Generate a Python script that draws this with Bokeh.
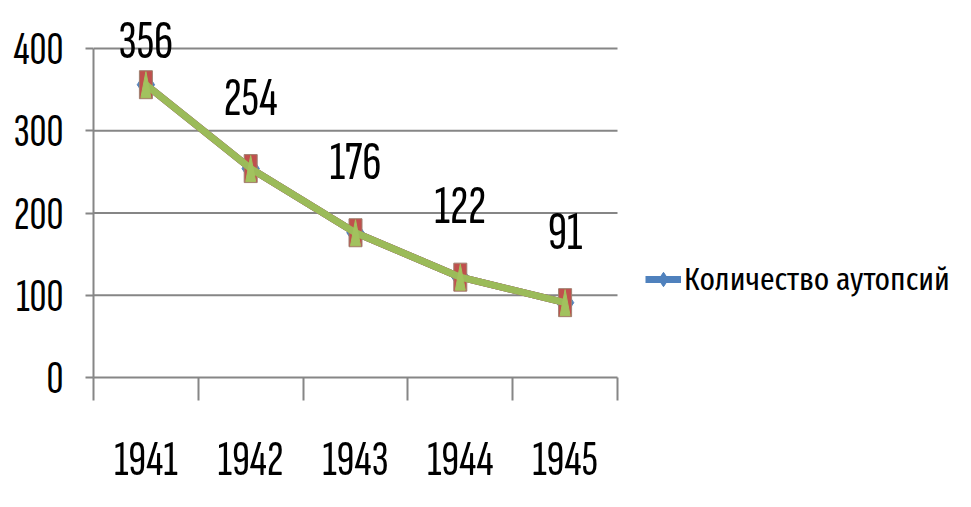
from bokeh.plotting import figure
from bokeh.models import Range1d, FixedTicker, ColumnDataSource, LabelSet, Legend, LegendItem
from bokeh.core.properties import value
from bokeh.embed import file_html
from bokeh.resources import INLINE

# ---- data ----
years = ["1941", "1942", "1943", "1944", "1945"]
autopsies = [356, 254, 176, 122, 91]
y_ticks = [0, 100, 200, 300, 400]
series_name = "Количество аутопсий"

# ---- style ----
NUM_FONT = "Sofia Sans Extra Condensed"
LEG_FONT = "Fira Sans Extra Condensed"
GRID = "#868686"
BLUE = "#4F81BD"
RED = "#C0504D"
GREEN = "#9BBB59"

W, H = 955, 491
BL, BB = 93, 114
Y_MAX = 400
CAT_PX = 104.8
Y_PX = 0.8225

x = [i + 0.5 for i in range(len(years))]
frame_w = W - BL
frame_h = H - BB

p = figure(width=W, height=H, output_backend="svg", toolbar_location=None,
           x_range=Range1d(0, frame_w / CAT_PX), y_range=Range1d(0, frame_h / Y_PX),
           min_border_left=BL, min_border_right=0, min_border_top=0, min_border_bottom=BB)
p.outline_line_color = None
p.background_fill_color = "white"
p.xgrid.visible = False
p.ygrid.visible = False

# horizontal gridlines across the plot area only
gl = y_ticks[1:]
p.segment(x0=[0] * len(gl), y0=gl, x1=[len(years)] * len(gl), y1=gl,
          line_color=GRID, line_width=2)

yax = p.yaxis[0]
yax.ticker = FixedTicker(ticks=y_ticks)
yax.bounds = (0, Y_MAX)
yax.axis_line_color = GRID
yax.axis_line_width = 2
yax.major_tick_line_color = GRID
yax.major_tick_line_width = 2
yax.major_tick_out = 8
yax.major_tick_in = 0
yax.minor_tick_line_color = None
yax.major_label_text_font = NUM_FONT
yax.major_label_text_font_size = "47px"
yax.major_label_text_color = "black"
yax.major_label_standoff = 22

xax = p.xaxis[0]
xax.ticker = FixedTicker(ticks=x, minor_ticks=list(range(len(years) + 1)))
xax.bounds = (0, len(years))
xax.major_label_overrides = {xi: yr for xi, yr in zip(x, years)}
xax.axis_line_color = GRID
xax.axis_line_width = 2
xax.major_tick_line_color = None
xax.major_tick_out = 0
xax.major_tick_in = 0
xax.minor_tick_line_color = GRID
xax.minor_tick_line_width = 2
xax.minor_tick_out = 23
xax.minor_tick_in = 0
xax.major_label_text_font = NUM_FONT
xax.major_label_text_font_size = "50px"
xax.major_label_text_color = "black"
xax.major_label_standoff = 41

# ---- series (three identical series, as in the original) ----
blue_line = p.line(x, autopsies, line_color=BLUE, line_width=7)
blue_pts = p.scatter(x, autopsies, marker="diamond", size=26, fill_color=BLUE, line_color=BLUE)

p.line(x, autopsies, line_color=RED, line_width=7)
p.rect(x, autopsies, width=13, height=28, width_units="screen", height_units="screen",
       fill_color=RED, line_color="#A08070", line_width=1)

p.line(x, autopsies, line_color=GREEN, line_width=7)
tw = 5 / CAT_PX
th = 13 / Y_PX
tri_xs = [[xi - tw, xi + tw, xi] for xi in x]
tri_ys = [[v - th, v - th, v + th] for v in autopsies]
p.patches(tri_xs, tri_ys, fill_color="#A2C25E", line_color="#A2C25E", line_width=1)

# ---- data labels ----
lab_off = 54 / Y_PX
lab_top = (frame_h - 57) / Y_PX
src = ColumnDataSource(dict(x=x, y=[min(v + lab_off, lab_top) for v in autopsies],
                            t=[str(v) for v in autopsies]))
p.add_layout(LabelSet(x="x", y="y", text="t", source=src, text_align="center",
                      text_baseline="alphabetic", text_font=value(NUM_FONT),
                      text_font_size=value("54px"), text_color="black"))

# ---- legend ----
legend = Legend(items=[LegendItem(label=series_name, renderers=[blue_line, blue_pts])],
                location=(552, 78), padding=0, margin=0, spacing=0,
                border_line_color=None, background_fill_alpha=0,
                glyph_width=36, glyph_height=40, label_height=40, label_standoff=3,
                label_text_font=LEG_FONT, label_text_font_size="32px", label_text_color="black",
                label_text_baseline="middle")
p.add_layout(legend)

open("out.html", "w").write(file_html(p, INLINE))
